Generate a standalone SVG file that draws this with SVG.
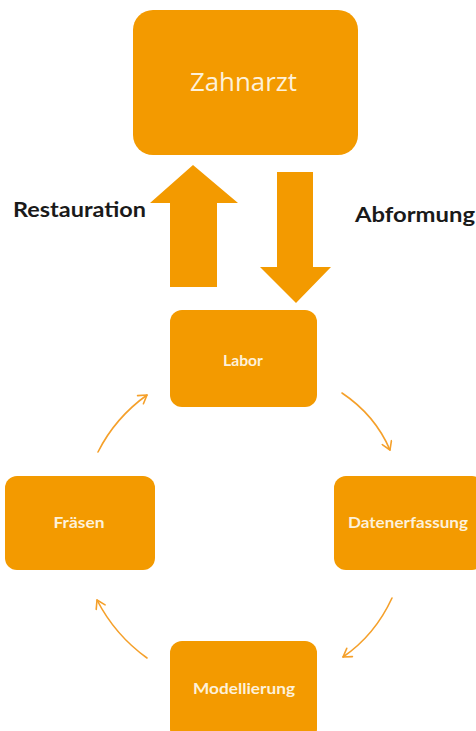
<svg xmlns="http://www.w3.org/2000/svg" width="476" height="731" viewBox="0 0 476 731">
<style>
.box{fill:#F39A00}
.nt{fill:#FDF1DA;font-family:Lato,"Open Sans",sans-serif;text-anchor:middle;font-weight:bold;font-size:15px}
.lbl{fill:#1a1a1a;font-family:Lato,"Open Sans",sans-serif;font-size:20px;font-weight:bold}
.cyc{fill:none;stroke:#F5A02A;stroke-width:1.6;stroke-linecap:round;stroke-linejoin:round}
.big{fill:#F39A00}
</style>
<defs>
<marker id="ah" viewBox="0 0 12 12" refX="10" refY="6" markerWidth="12" markerHeight="12" markerUnits="userSpaceOnUse" orient="auto">
<path d="M2,1 L10,6 L2,11" fill="none" stroke="#F5A02A" stroke-width="1.6" stroke-linecap="round" stroke-linejoin="round"/>
</marker>
</defs>
<rect width="476" height="731" fill="#fff"/>
<g id="zahnarzt">
<rect class="box" x="133" y="10" width="225" height="145" rx="20"/>
<text x="243.5" y="91" fill="#FDF1DA" font-family="'Open Sans',Lato,sans-serif" font-size="25" text-anchor="middle" textLength="107" lengthAdjust="spacingAndGlyphs">Zahnarzt</text>
</g>
<g id="labor"><rect class="box" x="170" y="310" width="147" height="97" rx="12"/><text class="nt" x="243" y="366" textLength="40" lengthAdjust="spacingAndGlyphs">Labor</text></g>
<g id="datenerfassung"><rect class="box" x="334" y="476" width="150" height="94" rx="12"/><text class="nt" x="408" y="528" textLength="120" lengthAdjust="spacingAndGlyphs">Datenerfassung</text></g>
<g id="modellierung"><rect class="box" x="170" y="641" width="147" height="100" rx="12"/><text class="nt" x="244" y="694" textLength="102" lengthAdjust="spacingAndGlyphs">Modellierung</text></g>
<g id="fraesen"><rect class="box" x="5" y="476" width="150" height="94" rx="12"/><text class="nt" x="79" y="528" textLength="51" lengthAdjust="spacingAndGlyphs">Fräsen</text></g>
<g id="connectors">
<polygon class="big" points="193,165 238,203 217,203 217,287 170,287 170,203 150,203"/>
<polygon class="big" points="277,172 313,172 313,267 331,267 296,303 260,267 277,267"/>
<path class="cyc" d="M342,393 Q375,415 390,450" marker-end="url(#ah)"/>
<path class="cyc" d="M392,598 Q375,635 343,657" marker-end="url(#ah)"/>
<path class="cyc" d="M147,658 Q115,635 97,600" marker-end="url(#ah)"/>
<path class="cyc" d="M98,452 Q115,418 147,395" marker-end="url(#ah)"/>
</g>
<text class="lbl" x="13" y="217" textLength="133" lengthAdjust="spacingAndGlyphs">Restauration</text>
<text class="lbl" x="355" y="222" textLength="120" lengthAdjust="spacingAndGlyphs">Abformung</text>
</svg>
